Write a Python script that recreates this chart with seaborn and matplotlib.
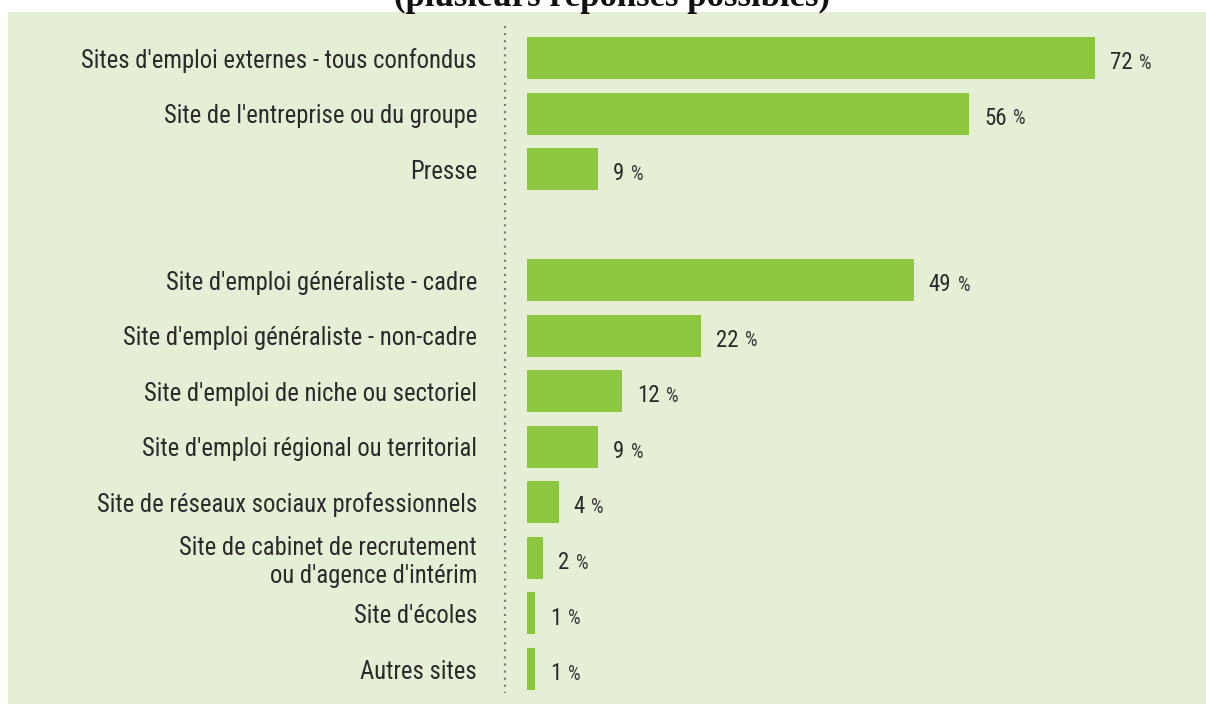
import matplotlib
matplotlib.use("Agg")
import matplotlib.pyplot as plt
from matplotlib import font_manager
from matplotlib.patches import Rectangle
import seaborn as sns
import pandas as pd

categories = [
    "Sites d'emploi externes - tous confondus",
    "Site de l'entreprise ou du groupe",
    "Presse",
    " ",
    "Site d'emploi généraliste - cadre",
    "Site d'emploi généraliste - non-cadre",
    "Site d'emploi de niche ou sectoriel",
    "Site d'emploi régional ou territorial",
    "Site de réseaux sociaux professionnels",
    "Site de cabinet de recrutement\nou d'agence d'intérim",
    "Site d'écoles",
    "Autres sites",
]
values = [72, 56, 9, None, 49, 22, 12, 9, 4, 2, 1, 1]
title = "(plusieurs réponses possibles)"

BAR = "#8DC63F"
BG = "#E4EFD6"
TXT = "#2A2A2A"

available = {f.name for f in font_manager.fontManager.ttflist}
label_font = "DejaVu Sans"
for cand in ["Liberation Sans Narrow", "Roboto Condensed", "Open Sans Condensed", "Noto Sans Condensed", "Arial Narrow"]:
    if cand in available:
        label_font = cand
        break

sns.set_theme(style="white")
plt.rcParams["font.family"] = [label_font, "DejaVu Sans"]

df = pd.DataFrame({"cat": categories, "val": values}).dropna()

fig = plt.figure(figsize=(12.06, 7.04), dpi=100)
fig.patches.append(Rectangle((8 / 1206, 0), 1198 / 1206, 692 / 704,
                             transform=fig.transFigure, facecolor=BG,
                             edgecolor="none", zorder=-5))

ax = fig.add_axes([480 / 1206, 1 - 696.8 / 704, 726 / 1206, 666.6 / 704])
ax.set_facecolor("none")
sns.barplot(data=df, x="val", y="cat", order=categories, orient="h",
            color=BAR, saturation=1, width=0.756, linewidth=0, ax=ax)

pxu = 568 / 72
ax.set_xlim(-(527 - 480) / pxu, (1206 - 527) / pxu)
ax.set_ylim(len(categories) - 0.5, -0.5)
for s in ax.spines.values():
    s.set_visible(False)
ax.set_xticks([])
ax.set_xlabel("")
ax.set_ylabel("")
ax.tick_params(axis="y", length=0, pad=2.2, labelsize=17.7, labelcolor=TXT)

# dotted separator
xsep = -(527 - 505) / pxu
ax.plot([xsep, xsep], [-0.5 - 4 / 55.55, len(categories) - 0.5 - 4 / 55.55],
        color="#777777", lw=1.5, linestyle=(0, (1, 2.4)), clip_on=False)

NUM_FS = 16.5
order_pos = {c: i for i, c in enumerate(categories)}
for c, v in zip(df["cat"], df["val"]):
    i = order_pos[c]
    t = ax.annotate(f"{int(v)}", xy=(v, i), xytext=(11, -1.5),
                    textcoords="offset points", va="center_baseline",
                    ha="left", fontsize=NUM_FS, color=TXT)
    ax.annotate("%", xy=(1, 0), xycoords=t, xytext=(4.5, NUM_FS * 0.235),
                textcoords="offset points", va="baseline", ha="left",
                fontsize=14.5, color="#3A3A3A")

fig.text(612 / 1206, 1 - 6 / 704, title, ha="center", va="baseline",
         fontsize=25, fontweight="bold", family=["Liberation Serif", "DejaVu Serif"],
         color="#111111")

fig.savefig("out.png", dpi=100)
